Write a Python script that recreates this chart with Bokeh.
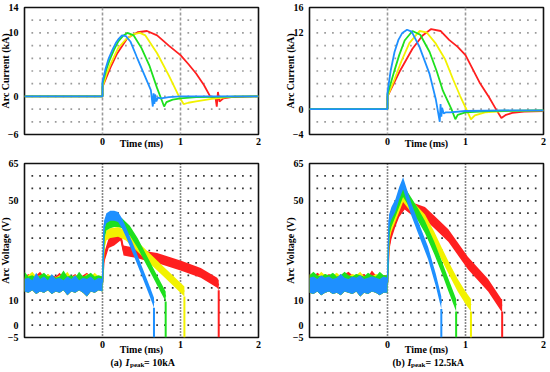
import numpy as np
from bokeh.plotting import figure
from bokeh.layouts import column, row
from bokeh.models import FixedTicker, Span, Range1d
from bokeh.core.properties import value
from bokeh.embed import file_html
from bokeh.resources import INLINE

FONT = "Liberation Serif"
RED, YELLOW, GREEN, BLUE = "#ff1f1f", "#f2f200", "#1ee01e", "#1e90ff"

# ---------------- data: arc current, Ipeak = 10 kA ----------------
TL_RED_T = [-1.0, 0.0, 0.0, 0.1, 0.19, 0.32, 0.45, 0.57, 0.7, 0.85, 1.0, 1.1, 1.2, 1.3, 1.38, 1.45, 1.465, 1.48, 1.5, 1.55, 1.65, 2.0]
TL_RED_I = [0, 0, 1.5, 4.5, 6.8, 9.2, 10.1, 10.3, 9.6, 8.0, 6.5, 5.1, 3.6, 1.8, 0.0, -0.3, -1.6, 0.7, -0.8, -0.3, -0.1, 0.0]
TL_YELLOW_T = [-1.0, 0.0, 0.0, 0.05, 0.1, 0.2, 0.3, 0.4, 0.48, 0.55, 0.7, 0.85, 0.98, 1.04, 1.1, 1.2, 1.4, 1.7, 2.0]
TL_YELLOW_I = [0, 0, 1.5, 3.5, 5.0, 7.6, 9.0, 9.8, 10.0, 9.6, 6.8, 3.3, 0.0, -1.2, -1.0, -0.8, -0.4, 0.0, 0.0]
TL_GREEN_T = [-1.0, 0.0, 0.0, 0.05, 0.1, 0.15, 0.2, 0.26, 0.32, 0.4, 0.5, 0.6, 0.7, 0.76, 0.79, 0.82, 0.9, 1.0, 1.2, 2.0]
TL_GREEN_I = [0, 0, 2.0, 4.3, 6.0, 7.4, 8.6, 9.5, 10.0, 9.6, 7.6, 4.9, 1.3, -0.6, -1.6, -0.9, -0.5, -0.3, -0.1, 0]
TL_BLUE_T = [-1.0, 0.0, 0.0, 0.04, 0.08, 0.13, 0.17, 0.21, 0.25, 0.30, 0.36, 0.44, 0.53, 0.62, 0.645, 0.655, 0.665, 0.675, 0.69, 0.71, 0.75, 0.85, 1.0, 2.0]
TL_BLUE_I = [0, 0, 2.3, 4.4, 6.0, 7.4, 8.4, 9.1, 9.6, 9.5, 8.6, 6.2, 3.6, 1.0, -1.6, 0.5, -1.2, 0.3, -0.8, -0.2, -0.3, -0.1, 0.0, 0.0]

# ---------------- data: arc current, Ipeak = 12.5 kA ----------------
TR_RED_T = [-1.0, 0.0, 0.0, 0.15, 0.32, 0.45, 0.56, 0.68, 0.79, 0.9, 1.0, 1.18, 1.3, 1.39, 1.46, 1.52, 1.6, 1.75, 2.0]
TR_RED_I = [0, 0, 2.0, 5.8, 9.5, 11.6, 12.6, 12.3, 10.9, 9.8, 8.5, 4.2, 1.9, 0.0, -1.4, -0.9, -0.6, -0.4, -0.3]
TR_YELLOW_T = [-1.0, 0.0, 0.0, 0.09, 0.18, 0.28, 0.41, 0.5, 0.62, 0.74, 0.84, 0.93, 1.01, 1.07, 1.12, 1.25, 1.5, 2.0]
TR_YELLOW_I = [0, 0, 2.0, 4.7, 7.6, 10.4, 12.3, 12.1, 10.3, 7.8, 4.7, 2.1, 0.0, -1.6, -1.0, -0.5, -0.3, -0.2]
TR_GREEN_T = [-1.0, 0.0, 0.0, 0.09, 0.15, 0.22, 0.32, 0.42, 0.54, 0.63, 0.71, 0.82, 0.87, 0.9, 1.0, 1.3, 2.0]
TR_GREEN_I = [0, 0, 2.3, 6.1, 8.5, 10.8, 12.3, 11.7, 9.0, 6.0, 2.9, 0.0, -1.6, -0.9, -0.5, -0.3, -0.2]
TR_BLUE_T = [-1.0, 0.0, 0.0, 0.04, 0.09, 0.14, 0.19, 0.25, 0.31, 0.41, 0.54, 0.62, 0.67, 0.68, 0.69, 0.70, 0.72, 0.75, 0.8, 1.0, 1.5, 2.0]
TR_BLUE_I = [0, 0, 2.6, 6.0, 9.0, 10.9, 12.0, 12.5, 12.2, 9.8, 5.5, 1.5, -2.0, 0.8, -1.2, 0.2, -0.7, -0.5, -0.5, -0.3, -0.2, -0.2]

# ---------------- data: arc voltage (pre-trigger noise envelope) ----------------
PRE_T = [-1.0, -0.95, -0.9, -0.85, -0.8, -0.75, -0.7, -0.65, -0.6, -0.55, -0.5,
         -0.45, -0.4, -0.35, -0.3, -0.25, -0.2, -0.15, -0.1, -0.05, 0.0]
BL_PRE_LO = [13.5, 13.0, 14.0, 12.5, 13.5, 13.0, 14.0, 12.5, 13.5, 13.0, 14.0, 12.0, 13.5, 13.0, 14.0, 13.0, 11.5, 13.5, 13.0, 14.0, 13.5]
BL_PRE_BLUE_HI = [18.5, 19.0, 18.0, 21.0, 18.5, 19.5, 18.0, 20.5, 18.5, 19.0, 18.0, 19.5, 18.5, 20.0, 18.0, 19.0, 18.5, 19.5, 18.0, 19.0, 18.5]
BL_PRE_RED_HI = [19.5, 20.5, 19.0, 20.0, 21.5, 19.5, 19.0, 20.0, 19.5, 21.0, 19.0, 20.0, 19.5, 20.5, 19.0, 20.0, 21.0, 19.5, 20.0, 19.5, 19.5]
BL_PRE_YELLOW_HI = [19.0, 20.0, 21.5, 19.5, 20.0, 19.0, 20.5, 19.5, 19.0, 20.0, 19.5, 21.5, 19.0, 20.0, 19.5, 19.0, 20.5, 19.5, 21.0, 19.5, 19.0]
BL_PRE_GREEN_HI = [21.5, 19.5, 20.0, 19.0, 20.0, 21.0, 19.5, 20.0, 19.0, 19.5, 22.0, 19.5, 20.0, 19.0, 21.5, 19.5, 20.0, 21.0, 19.5, 20.0, 19.5]
BR_PRE_LO = [13.0, 12.5, 13.5, 12.0, 13.0, 13.5, 12.5, 13.0, 12.0, 13.5, 13.0, 12.5, 13.5, 11.5, 13.0, 12.5, 13.5, 13.0, 12.0, 13.0, 13.0]
BR_PRE_BLUE_HI = [19.0, 19.5, 18.5, 20.0, 19.0, 19.5, 18.5, 19.0, 20.5, 19.0, 18.5, 19.5, 19.0, 20.0, 18.5, 19.0, 19.5, 19.0, 18.5, 19.5, 19.0]
BR_PRE_RED_HI = [20.0, 19.5, 21.0, 20.0, 19.5, 20.5, 19.5, 20.0, 19.5, 20.5, 21.5, 20.0, 19.5, 20.0, 20.5, 19.5, 22.0, 20.0, 19.5, 20.0, 20.0]
BR_PRE_YELLOW_HI = [20.5, 20.0, 19.5, 21.5, 20.0, 19.5, 20.0, 21.0, 19.5, 20.0, 19.5, 20.5, 20.0, 21.5, 19.5, 20.0, 19.5, 20.5, 20.0, 19.5, 20.0]
BR_PRE_GREEN_HI = [20.0, 21.5, 20.0, 19.5, 20.5, 20.0, 21.0, 19.5, 20.0, 21.5, 20.0, 19.5, 20.5, 20.0, 19.5, 21.0, 20.0, 19.5, 21.5, 20.0, 20.0]

# ---------------- data: arc voltage (arcing phase, band centre) ----------------
BL_RED_T = [0.0, 0.02, 0.08, 0.15, 0.23, 0.27, 0.35, 0.44, 0.6, 0.7, 0.85, 1.0, 1.26, 1.47, 1.49]
BL_RED_V = [17, 27, 33, 34, 36, 30, 29.5, 29, 27.5, 27, 25.5, 24, 21, 17, 16]
BL_YELLOW_T = [0.0, 0.02, 0.05, 0.1, 0.2, 0.3, 0.4, 0.5, 0.6, 0.8, 1.0, 1.05]
BL_YELLOW_V = [17, 32, 36, 37, 37.5, 36, 33, 30, 27, 21, 15, 13.5]
BL_GREEN_T = [0.0, 0.02, 0.05, 0.1, 0.15, 0.2, 0.25, 0.35, 0.45, 0.55, 0.65, 0.75, 0.81]
BL_GREEN_V = [17, 36, 40, 41, 41.5, 41.5, 41, 38, 33, 27, 21, 15, 11.5]
BL_BLUE_T = [0.0, 0.02, 0.05, 0.1, 0.15, 0.2, 0.25, 0.3, 0.4, 0.5, 0.6, 0.66]
BL_BLUE_V = [17, 40, 43, 44, 44, 43.5, 41, 37.5, 30, 22, 14, 9]

BR_RED_T = [0.0, 0.02, 0.05, 0.1, 0.15, 0.22, 0.3, 0.48, 0.6, 0.78, 1.03, 1.29, 1.46, 1.47]
BR_RED_V = [17, 32, 37, 42, 46, 49, 47, 45, 41.5, 36, 25, 16, 8, 8]
BR_YELLOW_T = [0.0, 0.02, 0.05, 0.1, 0.15, 0.2, 0.3, 0.48, 0.6, 0.69, 0.8, 0.9, 1.0, 1.07]
BR_YELLOW_V = [17, 36, 40, 44, 48, 52, 48, 42, 35, 29, 22, 16, 11, 8]
BR_GREEN_T = [0.0, 0.02, 0.05, 0.1, 0.15, 0.2, 0.3, 0.39, 0.48, 0.6, 0.7, 0.77, 0.88]
BR_GREEN_V = [17, 38, 42, 46, 50, 54, 49, 44.5, 39.5, 31, 23, 17, 8]
BR_BLUE_T = [0.0, 0.02, 0.05, 0.1, 0.15, 0.2, 0.25, 0.3, 0.39, 0.52, 0.62, 0.69]
BR_BLUE_V = [17, 42, 45, 48, 53, 57, 52, 47, 39.5, 29, 18, 9]

X_TICKS = [0, 1, 2]
TL_Y_TICKS = [-6, 0, 10, 14]
TR_Y_TICKS = [-4, 0, 12, 16]
B_Y_TICKS = [-5, 0, 10, 50, 65]

TL_YR = (-6, 14)
TR_YR = (-4, 16)
B_YR = (-5, 65)

# figure geometry (page pixels); root is shifted 6px left
SHIFT = 6
LW, RW = 281, 273           # column widths
L_BL, L_BR = 30, 17         # left-column borders
R_BL, R_BR = 34, 5          # right-column borders


def make_fig(w, h, bl, br, bt, bb, yr, yticks, ylabel, xlabel_standoff, rows,
             dot_color, span_color, span_dash):
    p = figure(width=w, height=h, x_range=Range1d(-1, 2), y_range=Range1d(*yr),
               output_backend="svg", toolbar_location=None,
               min_border_left=bl, min_border_right=br, min_border_top=bt, min_border_bottom=bb)
    p.title.visible = False
    p.xgrid.visible = False
    p.ygrid.visible = False
    p.outline_line_color = "#111111"
    p.outline_line_width = 1.6
    p.xaxis.ticker = FixedTicker(ticks=X_TICKS)
    p.yaxis.ticker = FixedTicker(ticks=yticks)
    for ax in (p.xaxis[0], p.yaxis[0]):
        ax.axis_line_color = None
        ax.major_tick_line_color = None
        ax.minor_tick_line_color = None
        ax.major_tick_out = 0
        ax.major_tick_in = 0
        ax.minor_tick_out = 0
        ax.minor_tick_in = 0
        ax.major_label_text_font = FONT
        ax.major_label_text_font_style = "bold"
        ax.major_label_text_font_size = "10px"
        ax.major_label_text_color = "black"
        ax.axis_label_text_font = FONT
        ax.axis_label_text_font_style = "bold"
        ax.axis_label_text_font_size = "10px"
        ax.axis_label_text_color = "black"
    p.yaxis.major_label_standoff = 6
    p.xaxis.major_label_standoff = 3
    p.yaxis.axis_label = ylabel
    p.yaxis.axis_label_standoff = -6
    p.xaxis.axis_label = "Time (ms)"
    p.xaxis.axis_label_standoff = xlabel_standoff
    # dotted oscilloscope grid
    gx = [v for v in np.round(np.arange(-0.9, 1.95, 0.1), 2) if abs(v - round(v)) > 1e-6]
    X, Y = np.meshgrid(gx, rows)
    p.scatter(X.ravel(), Y.ravel(), marker="square", size=1.7, color=dot_color, line_color=None)
    for loc in (0, 1):
        s = Span(location=loc, dimension="height", line_color=span_color,
                 line_dash=span_dash, line_width=1.6)
        s.level = "underlay"
        p.add_layout(s)
    return p


def caption_fig(w, bl, br, parts):
    c = figure(width=w, height=13, x_range=Range1d(-1, 2), y_range=Range1d(0, 1),
               output_backend="svg", toolbar_location=None,
               min_border_left=bl, min_border_right=br, min_border_top=0, min_border_bottom=0)
    c.title.visible = False
    c.axis.visible = False
    c.grid.visible = False
    c.outline_line_color = None
    for txt, xo, y, size, style in parts:
        c.text(x=[-1], y=[y], text=[txt], x_offset=xo, text_align="left", text_baseline="middle",
               text_font=value(FONT), text_font_style=style, text_font_size=size, text_color="black")
    return c


# ---------- top-left ----------
p1 = make_fig(LW, 157, L_BL, L_BR, 7, 23, TL_YR, TL_Y_TICKS, "Arc Current (kA)", -10,
              list(range(-4, 13, 2)), "#9a9a9a", "#9a9a9a", "3 2")
for t, i, c in ((TL_RED_T, TL_RED_I, RED), (TL_YELLOW_T, TL_YELLOW_I, YELLOW),
                (TL_GREEN_T, TL_GREEN_I, GREEN), (TL_BLUE_T, TL_BLUE_I, BLUE)):
    p1.line(t, i, line_color=c, line_width=1.8)

# ---------- top-right ----------
p2 = make_fig(RW, 157, R_BL, R_BR, 7, 23, TR_YR, TR_Y_TICKS, "Arc Current (kA)", -10,
              list(range(-2, 15, 2)), "#9a9a9a", "#9a9a9a", "3 2")
for t, i, c in ((TR_RED_T, TR_RED_I, RED), (TR_YELLOW_T, TR_YELLOW_I, YELLOW),
                (TR_GREEN_T, TR_GREEN_I, GREEN), (TR_BLUE_T, TR_BLUE_I, BLUE)):
    p2.line(t, i, line_color=c, line_width=1.8)


def voltage(p, lo, pre_hi, t, v, c, hw):
    p.varea(x=PRE_T, y1=lo, y2=pre_hi, fill_color=c)
    v = np.array(v, dtype=float)
    p.varea(x=t, y1=v - hw, y2=v + hw, fill_color=c)
    p.line(t, v, line_color=c, line_width=1.5)
    p.segment(x0=[t[-1]], y0=[v[-1] - hw], x1=[t[-1]], y1=[B_YR[0]], line_color=c, line_width=2)


# ---------- bottom-left ----------
p3 = make_fig(LW, 200, L_BL, L_BR, 6, 18, B_YR, B_Y_TICKS, "Arc Voltage (V)", -7,
              list(range(0, 61, 5)), "#333333", "#111111", "1 2")
for hi, t, v, c in ((BL_PRE_RED_HI, BL_RED_T, BL_RED_V, RED),
                    (BL_PRE_YELLOW_HI, BL_YELLOW_T, BL_YELLOW_V, YELLOW),
                    (BL_PRE_GREEN_HI, BL_GREEN_T, BL_GREEN_V, GREEN),
                    (BL_PRE_BLUE_HI, BL_BLUE_T, BL_BLUE_V, BLUE)):
    voltage(p3, BL_PRE_LO, hi, t, v, c, 2.0)
c3 = caption_fig(LW, L_BL, L_BR, [("(a)", 86, 0.65, "10px", "bold"),
                                  ("I", 101, 0.65, "10px", "bold italic"),
                                  ("peak", 105.5, 0.45, "7px", "bold"),
                                  ("= 10kA", 119.5, 0.65, "10px", "bold")])

# ---------- bottom-right ----------
p4 = make_fig(RW, 200, R_BL, R_BR, 6, 18, B_YR, B_Y_TICKS, "Arc Voltage (V)", -7,
              list(range(0, 61, 5)), "#333333", "#111111", "1 2")
for hi, t, v, c in ((BR_PRE_RED_HI, BR_RED_T, BR_RED_V, RED),
                    (BR_PRE_YELLOW_HI, BR_YELLOW_T, BR_YELLOW_V, YELLOW),
                    (BR_PRE_GREEN_HI, BR_GREEN_T, BR_GREEN_V, GREEN),
                    (BR_PRE_BLUE_HI, BR_BLUE_T, BR_BLUE_V, BLUE)):
    voltage(p4, BR_PRE_LO, hi, t, v, c, 2.5)
c4 = caption_fig(RW, R_BL, R_BR, [("(b)", 83, 0.65, "10px", "bold"),
                                  ("I", 98, 0.65, "10px", "bold italic"),
                                  ("peak", 101.5, 0.45, "7px", "bold"),
                                  ("= 12.5kA", 116, 0.65, "10px", "bold")])

layout = column(row(p1, p2), row(p3, p4), row(c3, c4),
                styles={"position": "absolute", "left": f"-{SHIFT}px", "top": "0px"})

open("out.html", "w").write(file_html(layout, INLINE))
